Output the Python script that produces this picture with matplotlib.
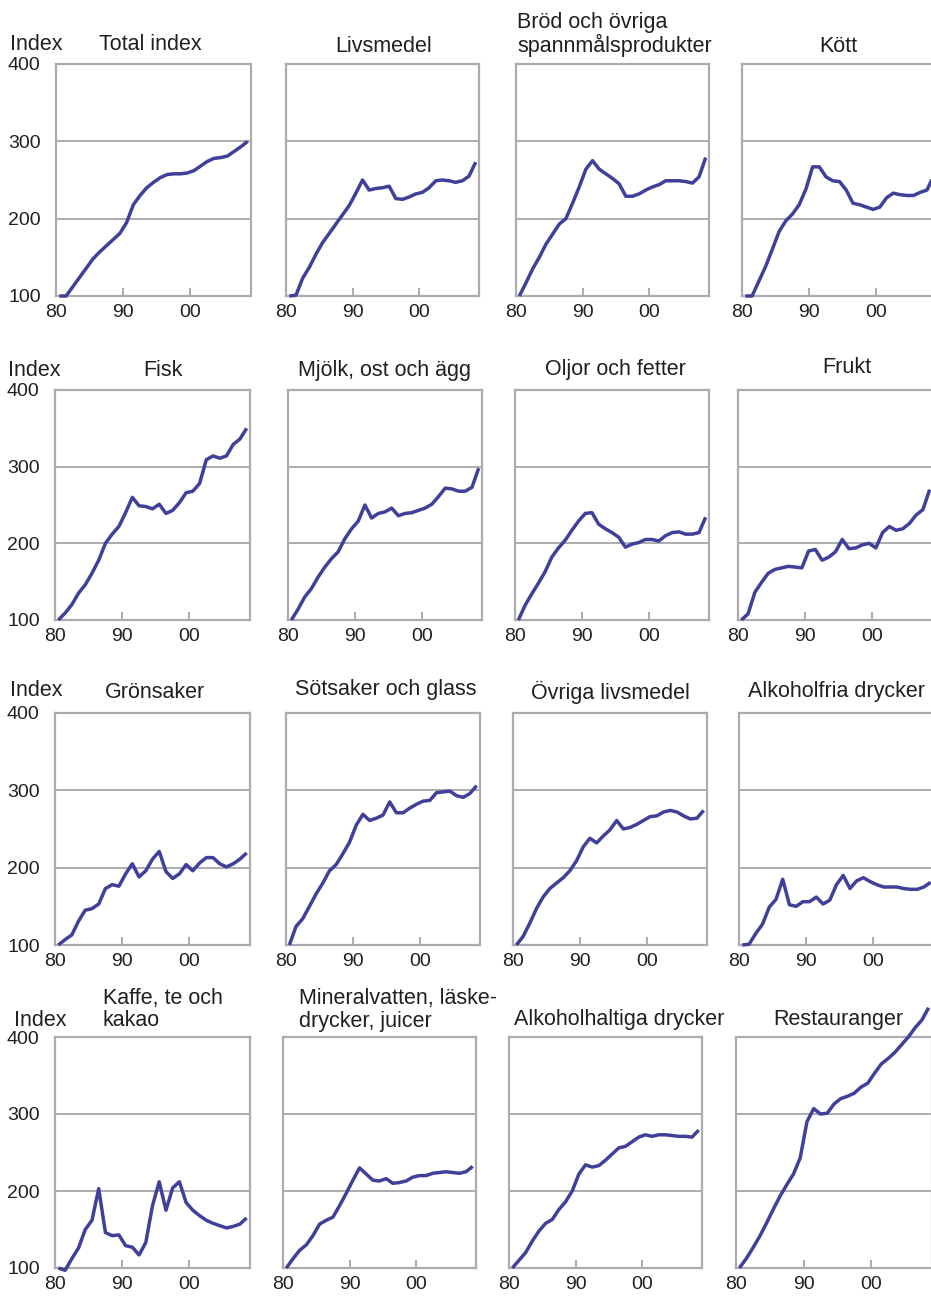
import matplotlib
matplotlib.use("Agg")
import matplotlib.pyplot as plt

plt.rcParams['font.family'] = ['Liberation Sans', 'DejaVu Sans']

years = list(range(1980, 2009))

titles = ["Total index", "Livsmedel", "Bröd och övriga\nspannmålsprodukter", "Kött",
          "Fisk", "Mjölk, ost och ägg", "Oljor och fetter", "Frukt",
          "Grönsaker", "Sötsaker och glass", "Övriga livsmedel", "Alkoholfria drycker",
          "Kaffe, te och\nkakao", "Mineralvatten, läske-\ndrycker, juicer",
          "Alkoholhaltiga drycker", "Restauranger"]

total_index = [100, 100, 112, 124, 136, 148, 157, 165, 173, 181, 195, 218, 230, 240, 247,
               253, 257, 258, 258, 259, 262, 268, 274, 278, 279, 281, 287, 293, 300]
livsmedel = [100, 101, 123, 137, 154, 169, 181, 193, 205, 217, 233, 250, 237, 239, 240,
             242, 226, 225, 228, 232, 234, 240, 249, 250, 249, 247, 249, 255, 273]
brod = [100, 117, 135, 150, 167, 180, 193, 200, 220, 241, 264, 275, 264, 258, 252,
        245, 229, 229, 232, 237, 241, 244, 249, 249, 249, 248, 246, 254, 279]
kott = [100, 100, 119, 138, 160, 183, 197, 206, 218, 238, 267, 267, 254, 249, 248,
        237, 220, 218, 215, 212, 215, 227, 233, 231, 230, 230, 234, 237, 255]
fisk = [100, 109, 120, 135, 146, 161, 178, 200, 212, 222, 240, 260, 249, 248, 245,
        251, 239, 243, 253, 266, 268, 278, 309, 314, 311, 314, 329, 336, 350]
mjolk = [100, 114, 130, 141, 156, 169, 180, 189, 206, 219, 229, 250, 233, 239, 241,
         246, 236, 239, 240, 243, 246, 251, 261, 272, 271, 268, 268, 273, 298]
oljor = [100, 119, 134, 148, 163, 182, 194, 204, 217, 229, 239, 240, 225, 219, 214,
         208, 195, 199, 201, 205, 205, 203, 210, 214, 215, 212, 212, 214, 234]
frukt = [100, 108, 136, 149, 161, 166, 168, 170, 169, 168, 190, 192, 178, 182, 189,
         205, 193, 194, 198, 200, 194, 214, 222, 217, 219, 226, 237, 244, 270]
gronsaker = [100, 107, 113, 131, 145, 147, 153, 173, 178, 176, 192, 205, 188, 196, 211,
             221, 195, 186, 192, 204, 196, 206, 213, 213, 205, 201, 205, 211, 219]
sotsaker = [100, 124, 134, 150, 166, 180, 196, 204, 218, 233, 255, 269, 261, 264, 268,
            285, 271, 271, 277, 282, 286, 287, 297, 298, 299, 293, 291, 296, 306]
ovriga = [100, 111, 128, 147, 162, 173, 180, 187, 196, 209, 227, 238, 232, 241, 249,
          261, 250, 252, 256, 261, 266, 267, 272, 274, 272, 267, 263, 264, 274]
alkoholfria = [100, 101, 115, 127, 149, 159, 185, 152, 150, 156, 156, 162, 153, 158, 178,
               190, 173, 183, 187, 182, 178, 175, 175, 175, 173, 172, 172, 175, 181]
kaffe = [100, 97, 112, 126, 150, 162, 203, 146, 142, 143, 129, 127, 117, 133, 181,
         212, 175, 204, 212, 185, 175, 168, 162, 158, 155, 152, 154, 157, 165]
mineral = [100, 112, 123, 130, 142, 157, 162, 166, 181, 197, 214, 230, 222, 214, 213,
           216, 210, 211, 213, 218, 220, 220, 223, 224, 225, 224, 223, 225, 232]
alkoholhaltiga = [100, 110, 120, 135, 148, 158, 163, 176, 186, 200, 222, 234, 231, 233, 240,
                  248, 256, 258, 264, 270, 273, 271, 273, 273, 272, 271, 271, 270, 279]
restauranger = [100, 112, 126, 141, 158, 176, 193, 208, 222, 243, 290, 307, 300, 301, 313,
                320, 323, 327, 335, 340, 353, 365, 372, 380, 390, 400, 412, 422, 438]

series = [total_index, livsmedel, brod, kott, fisk, mjolk, oljor, frukt,
          gronsaker, sotsaker, ovriga, alkoholfria, kaffe, mineral, alkoholhaltiga, restauranger]

y_ticks = [100, 200, 300, 400]
x_ticks = [1979.5, 1989.5, 1999.5]
x_labels = ["80", "90", "00"]

W, H = 931, 1296
fig = plt.figure(figsize=(W / 100, H / 100), dpi=100)

# panel frames in pixels: left, right, top, bottom
boxes = [(56, 251, 64, 296), (286, 479, 64, 296), (516, 709, 64, 296), (742, 937, 64, 296),
         (55, 250, 390, 620), (288, 482, 390, 620), (515, 709, 390, 620), (738, 933, 390, 620),
         (55, 250, 713, 945), (286, 480, 713, 945), (513, 707, 713, 945), (739, 934, 713, 945),
         (55, 250, 1037, 1268), (283, 476, 1037, 1268), (509, 702, 1037, 1268), (736, 932, 1037, 1268)]

# title anchors: (x, y of last line, ha)
title_pos = [(150, 43, 'center'), (384, 44, 'center'), (517, 43, 'left'), (838, 44, 'center'),
             (163, 369, 'center'), (384, 368, 'center'), (615, 367, 'center'), (847, 366, 'center'),
             (155, 690, 'center'), (386, 688, 'center'), (610, 690, 'center'), (837, 690, 'center'),
             (103, 1019, 'left'), (299, 1019, 'left'), (619, 1017, 'center'), (838, 1017, 'center')]
index_pos = [(10, 43), (8, 369), (10, 689), (14, 1018)]
text_shift = 2  # px downward

frame_col = '#ababb0'
line_col = '#40409a'
text_col = '#231f20'
fs_title = 15.5
fs_tick = 14

for i, (vals, box) in enumerate(zip(series, boxes)):
    l, r, t, b = box
    ax = fig.add_axes([l / W, 1 - b / H, (r - l) / W, (b - t) / H])
    ax.plot(years, vals, color=line_col, lw=2.5, clip_on=False, zorder=5,
            solid_joinstyle='round', solid_capstyle='butt')
    ax.set_xlim(1979.5, 2008.5)
    ax.set_ylim(100, 400)
    ax.set_yticks(y_ticks)
    ax.set_xticks(x_ticks)
    ax.set_xticklabels(x_labels)
    ax.yaxis.grid(True, color=frame_col, lw=1.4)
    ax.set_axisbelow(True)
    for sp in ax.spines.values():
        sp.set_color(frame_col)
        sp.set_linewidth(1.6)
    ax.tick_params(axis='x', direction='in', length=6, width=1.4, color=frame_col,
                   pad=6, labelsize=fs_tick, labelcolor=text_col)
    ax.tick_params(axis='y', length=0, pad=11, labelsize=fs_tick, labelcolor=text_col)
    if i % 4 != 0:
        ax.set_yticklabels([])

    x, y, ha = title_pos[i]
    lines = titles[i].split("\n")
    for j, line in enumerate(reversed(lines)):
        fig.text(x / W, 1 - (y + text_shift - 22.5 * j) / H, line, ha=ha, va='center',
                 fontsize=fs_title, color=text_col)

for x, y in index_pos:
    fig.text(x / W, 1 - (y + text_shift) / H, "Index", ha='left', va='center',
             fontsize=fs_title, color=text_col)

fig.savefig("out.png", dpi=100)
